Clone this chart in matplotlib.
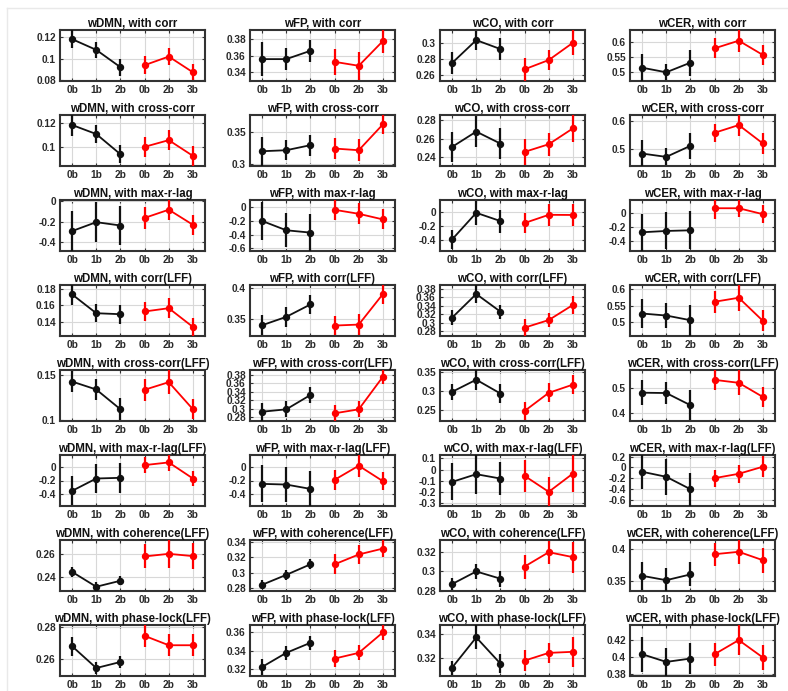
import matplotlib
matplotlib.use("Agg")
import matplotlib.pyplot as plt
from matplotlib.lines import Line2D
from matplotlib.ticker import FixedLocator, FuncFormatter

plt.rcParams['font.family'] = ['Liberation Sans', 'DejaVu Sans']

# ---- data -------------------------------------------------------------
networks = ["wDMN", "wFP", "wCO", "wCER"]
measures = ["corr", "cross-corr", "max-r-lag", "corr(LFF)",
            "cross-corr(LFF)", "max-r-lag(LFF)", "coherence(LFF)",
            "phase-lock(LFF)"]
tick_labels = ["0b", "1b", "2b", "0b", "2b", "3b"]
x_pos = [1, 2, 3, 4, 5, 6]

# group means, one list of six conditions per network (wDMN, wFP, wCO, wCER)
corr_mean = [[0.1184, 0.1083, 0.0920, 0.0939, 0.1020, 0.0872],
             [0.3556, 0.3556, 0.3657, 0.3523, 0.3475, 0.3776],
             [0.2746, 0.3033, 0.2921, 0.2667, 0.2783, 0.3000],
             [0.5144, 0.4990, 0.5311, 0.5789, 0.6044, 0.5567]]
corr_err = [[0.0085, 0.0076, 0.0079, 0.0082, 0.0079, 0.0077],
            [0.021, 0.0135, 0.0137, 0.016, 0.017, 0.014],
            [0.014, 0.012, 0.0133, 0.0145, 0.0125, 0.0154],
            [0.045, 0.027, 0.043, 0.033, 0.039, 0.033]]

xcorr_mean = [[0.1186, 0.1109, 0.0937, 0.1000, 0.1057, 0.0923],
              [0.3199, 0.3215, 0.3296, 0.3242, 0.3215, 0.3630],
              [0.2509, 0.2675, 0.2545, 0.2455, 0.2538, 0.2710],
              [0.4847, 0.4730, 0.5118, 0.5576, 0.5847, 0.5200]]
xcorr_err = [[0.009, 0.008, 0.0077, 0.0086, 0.0086, 0.0086],
             [0.023, 0.016, 0.0167, 0.017, 0.018, 0.016],
             [0.016, 0.017, 0.0165, 0.0145, 0.0125, 0.0146],
             [0.047, 0.030, 0.045, 0.032, 0.038, 0.036]]

lag_mean = [[-0.294, -0.206, -0.239, -0.164, -0.083, -0.232],
            [-0.200, -0.336, -0.370, -0.038, -0.096, -0.178],
            [-0.390, -0.009, -0.127, -0.155, -0.038, -0.040],
            [-0.278, -0.259, -0.250, 0.066, 0.066, -0.019]]
lag_err = [[0.195, 0.200, 0.195, 0.105, 0.100, 0.100],
           [0.280, 0.250, 0.265, 0.150, 0.155, 0.145],
           [0.140, 0.170, 0.165, 0.145, 0.155, 0.160],
           [0.265, 0.265, 0.270, 0.150, 0.130, 0.130]]

corr_lff_mean = [[0.1735, 0.1506, 0.1494, 0.1527, 0.1567, 0.1339],
                 [0.3402, 0.3538, 0.3739, 0.3397, 0.3413, 0.3908],
                 [0.3117, 0.3680, 0.3260, 0.2879, 0.3060, 0.3420],
                 [0.5258, 0.5196, 0.5052, 0.5619, 0.5742, 0.5031]]
corr_lff_err = [[0.0127, 0.011, 0.0115, 0.012, 0.012, 0.011],
                [0.016, 0.016, 0.0155, 0.015, 0.017, 0.016],
                [0.018, 0.022, 0.017, 0.020, 0.016, 0.022],
                [0.044, 0.038, 0.048, 0.033, 0.040, 0.032]]

xcorr_lff_mean = [[0.1427, 0.1339, 0.1120, 0.1336, 0.1420, 0.1120],
                  [0.2926, 0.2983, 0.3324, 0.2888, 0.2983, 0.3760],
                  [0.2983, 0.3304, 0.2939, 0.2478, 0.2957, 0.3174],
                  [0.4818, 0.4805, 0.4325, 0.5325, 0.5208, 0.4649]]
xcorr_lff_err = [[0.012, 0.012, 0.012, 0.012, 0.013, 0.011],
                 [0.021, 0.019, 0.020, 0.019, 0.019, 0.018],
                 [0.022, 0.027, 0.024, 0.024, 0.025, 0.025],
                 [0.050, 0.044, 0.060, 0.042, 0.050, 0.039]]

lag_lff_mean = [[-0.351, -0.171, -0.161, 0.024, 0.063, -0.171],
                [-0.249, -0.259, -0.322, -0.190, 0.015, -0.210],
                [-0.111, -0.042, -0.081, -0.057, -0.200, -0.036],
                [-0.081, -0.175, -0.406, -0.200, -0.119, 0.013]]
lag_lff_err = [[0.210, 0.205, 0.215, 0.120, 0.130, 0.115],
               [0.270, 0.260, 0.260, 0.145, 0.160, 0.135],
               [0.165, 0.180, 0.150, 0.145, 0.130, 0.165],
               [0.325, 0.330, 0.310, 0.160, 0.165, 0.200]]

coh_mean = [[0.2443, 0.2314, 0.2366, 0.2577, 0.2600, 0.2580],
            [0.2839, 0.2970, 0.3109, 0.3109, 0.3239, 0.3317],
            [0.2869, 0.3000, 0.2925, 0.3051, 0.3200, 0.3149],
            [0.3575, 0.3505, 0.3597, 0.3919, 0.3957, 0.3823]]
coh_err = [[0.0046, 0.004, 0.0041, 0.0104, 0.012, 0.011],
           [0.006, 0.0065, 0.0065, 0.013, 0.012, 0.011],
           [0.0065, 0.008, 0.0085, 0.0125, 0.012, 0.016],
           [0.022, 0.020, 0.019, 0.018, 0.020, 0.020]]

plv_mean = [[0.2682, 0.2545, 0.2583, 0.2747, 0.2688, 0.2688],
            [0.3225, 0.3378, 0.3487, 0.3316, 0.3378, 0.3600],
            [0.3118, 0.3372, 0.3152, 0.3177, 0.3242, 0.3251],
            [0.4032, 0.3940, 0.3980, 0.4032, 0.4200, 0.3992]]
plv_err = [[0.006, 0.004, 0.0035, 0.007, 0.007, 0.007],
           [0.009, 0.0075, 0.0073, 0.009, 0.008, 0.008],
           [0.006, 0.010, 0.008, 0.009, 0.0085, 0.0125],
           [0.021, 0.017, 0.019, 0.0135, 0.018, 0.015]]

means = [corr_mean, xcorr_mean, lag_mean, corr_lff_mean,
         xcorr_lff_mean, lag_lff_mean, coh_mean, plv_mean]
errs = [corr_err, xcorr_err, lag_err, corr_lff_err,
        xcorr_lff_err, lag_lff_err, coh_err, plv_err]

# axis limits and y ticks for each panel (row = measure, column = network)
ylims = [
    [(0.079, 0.127), (0.329, 0.391), (0.252, 0.316), (0.47, 0.64)],
    [(0.0837, 0.1271), (0.2962, 0.378), (0.2302, 0.2855), (0.441, 0.62)],
    [(-0.491, 0.013), (-0.638, 0.105), (-0.555, 0.174), (-0.546, 0.184)],
    [(0.1229, 0.1849), (0.3228, 0.4054), (0.268, 0.3895), (0.4567, 0.6134)],
    [(0.099, 0.1555), (0.2705, 0.392), (0.2213, 0.356), (0.3701, 0.5714)],
    [(-0.571, 0.171), (-0.571, 0.171), (-0.327, 0.13), (-0.719, 0.231)],
    [(0.2277, 0.272), (0.2757, 0.343), (0.2797, 0.3327), (0.3333, 0.4145)],
    [(0.2495, 0.2815), (0.3127, 0.368), (0.3048, 0.3476), (0.3772, 0.438)],
]
yticks = [
    [[0.08, 0.1, 0.12], [0.34, 0.36, 0.38], [0.26, 0.28, 0.3], [0.5, 0.55, 0.6]],
    [[0.1, 0.12], [0.3, 0.35], [0.24, 0.26, 0.28], [0.5, 0.6]],
    [[-0.4, -0.2, 0], [-0.6, -0.4, -0.2, 0], [-0.4, -0.2, 0], [-0.4, -0.2, 0]],
    [[0.14, 0.16, 0.18], [0.35, 0.4], [0.28, 0.3, 0.32, 0.34, 0.36, 0.38], [0.5, 0.55, 0.6]],
    [[0.1, 0.15], [0.28, 0.3, 0.32, 0.34, 0.36, 0.38], [0.25, 0.3, 0.35], [0.4, 0.5]],
    [[-0.4, -0.2, 0], [-0.4, -0.2, 0], [-0.3, -0.2, -0.1, 0, 0.1], [-0.6, -0.4, -0.2, 0, 0.2]],
    [[0.24, 0.26], [0.28, 0.3, 0.32, 0.34], [0.28, 0.3, 0.32], [0.35, 0.4]],
    [[0.26, 0.28], [0.32, 0.34, 0.36], [0.32, 0.34], [0.38, 0.4, 0.42]],
]

# ---- layout (pixels) ---------------------------------------------------
W, H = 788, 691
col_left = [60, 250, 440, 630]
row_top = [30, 115, 200, 285, 370, 455, 540, 625]
ax_w, ax_h = 145, 51

fig = plt.figure(figsize=(W / 100, H / 100), dpi=100)
fig.patch.set_facecolor("white")

# thin frame along top and left edges
fig.add_artist(Line2D([7 / W, 1.0], [1 - 8 / H, 1 - 8 / H], color="#e9e9e9", lw=1.0))
fig.add_artist(Line2D([7 / W, 7 / W], [0.0, 1 - 8 / H], color="#e9e9e9", lw=1.0))

fmt = FuncFormatter(lambda v, p: f"{v:g}")
box_col = "#333333"

for r, meas in enumerate(measures):
    for c, net in enumerate(networks):
        ax = fig.add_axes([col_left[c] / W, 1 - (row_top[r] + ax_h) / H,
                           ax_w / W, ax_h / H])
        m = means[r][c]
        e = errs[r][c]
        for sl, col in ((slice(0, 3), "#111111"), (slice(3, 6), "#ff0000")):
            ax.errorbar(x_pos[sl], m[sl], yerr=e[sl], fmt="-o", color=col,
                        ecolor=col, elinewidth=1.6, lw=1.3, ms=4.3,
                        capsize=0, zorder=3)
        ax.set_xlim(0.5, 6.5)
        ax.set_ylim(*ylims[r][c])
        ax.set_xticks(x_pos)
        ax.set_xticklabels(tick_labels)
        ax.yaxis.set_major_locator(FixedLocator(yticks[r][c]))
        ax.yaxis.set_major_formatter(fmt)
        ax.grid(True, color="#d8d8d8", lw=0.8, zorder=0)
        ax.set_axisbelow(True)
        for sp in ax.spines.values():
            sp.set_color(box_col)
            sp.set_linewidth(1.5)
        ax.tick_params(axis="both", direction="in", length=2, width=0.8,
                       color=box_col, labelsize=7.3, labelcolor="#2a2a2a",
                       pad=3, top=True, right=True)
        for lab in ax.get_xticklabels() + ax.get_yticklabels():
            lab.set_fontweight("bold")
        ax.set_title(f"{net}, with {meas}", fontsize=8.3, fontweight="bold",
                     color="#111111", pad=2.5)

fig.savefig("out.png", dpi=100, facecolor="white")
